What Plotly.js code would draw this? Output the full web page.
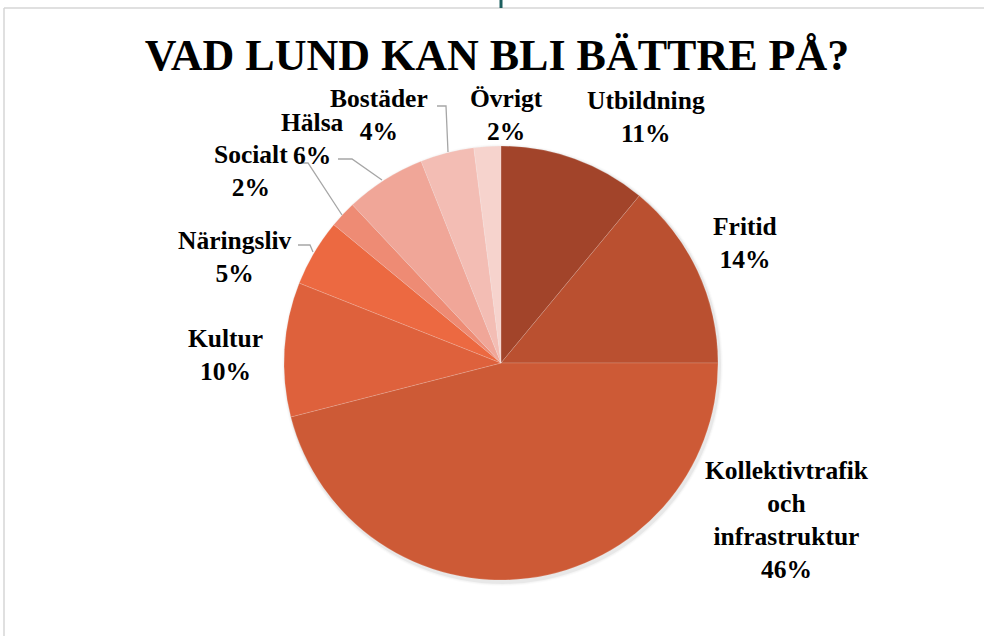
<!DOCTYPE html>
<html>
<head>
<meta charset="utf-8">
<script src="https://cdn.plot.ly/plotly-3.0.1.min.js"></script>
<style>
  html, body { margin: 0; padding: 0; background: #fff; }
  #chart { width: 984px; height: 636px; }
</style>
</head>
<body>
<div id="chart"></div>
<script>
const categories = ["Utbildning", "Fritid", "Kollektivtrafik och infrastruktur", "Kultur", "Näringsliv", "Socialt", "Hälsa", "Bostäder", "Övrigt"]
const shares = [11, 14, 46, 10, 5, 2, 6, 4, 2]
const colors = ["#A2442A", "#BA5030", "#CD5A36", "#DE613C", "#EC6941", "#EE8B74", "#F0A698", "#F3BDB4", "#F6D3CD"]

// label centres in pixels, same order as categories
const labelPos = [[646, 117], [745, 243], [787, 520], [225, 355], [235, 257], [251, 171], [312, 139], [379, 115], [506, 115]]

const W = 984, H = 636
const px = (x) => x / W
const py = (y) => 1 - y / H

const cx = 501, cy = 363, r = 217

const annotations = categories.map((name, i) => ({
    xref: "paper", yref: "paper",
    x: px(labelPos[i][0]), y: py(labelPos[i][1]),
    xanchor: "center", yanchor: "middle",
    text: name.split(" ").join("<br>") + "<br>" + shares[i] + "%",
    showarrow: false,
    font: { family: "Liberation Serif", size: 25.5, color: "#000", weight: "bold" }
}))

// leader lines (pixel paths)
const leaders = [
    [[437, 106], [446, 106], [448, 152]],
    [[338, 159], [352, 159], [382, 180]],
    [[298, 163], [308, 163], [342, 215]],
    [[298, 245], [310, 245], [313, 252]]
]

const shapes = []
// frame
shapes.push({ type: "line", xref: "paper", yref: "paper", x0: px(4), y0: py(8), x1: 1, y1: py(8), line: { color: "#d6d6d6", width: 1.5 } })
shapes.push({ type: "line", xref: "paper", yref: "paper", x0: px(4), y0: py(8), x1: px(4), y1: 0, line: { color: "#d6d6d6", width: 1.5 } })
shapes.push({ type: "line", xref: "paper", yref: "paper", x0: px(501), y0: 1, x1: px(501), y1: py(8), line: { color: "#1d5f5f", width: 3 } })
// soft shadow behind the pie
for (let k = 3; k >= 1; k--) {
    shapes.push({
        type: "circle", xref: "paper", yref: "paper", layer: "below",
        x0: px(cx - r - k + 1), x1: px(cx + r + k + 2),
        y0: py(cy + r + k + 3), y1: py(cy - r - k + 1),
        fillcolor: "rgba(0,0,0," + (0.05 / k).toFixed(3) + ")", line: { width: 0 }
    })
}
for (let l of leaders) {
    shapes.push({
        type: "path", xref: "paper", yref: "paper",
        path: "M" + l.map(p => px(p[0]) + "," + py(p[1])).join(" L"),
        line: { color: "#a6a6a6", width: 1.3 }
    })
}

const trace = {
    type: "pie",
    labels: categories,
    values: shares,
    sort: false,
    direction: "clockwise",
    rotation: 0,
    textinfo: "none",
    hoverinfo: "none",
    marker: { colors, line: { color: "rgba(255,255,255,0.25)", width: 0.6 } },
    domain: { x: [px(cx - r), px(cx + r)], y: [py(cy + r), py(cy - r)] }
}

const layout = {
    width: W, height: H,
    margin: { l: 0, r: 0, t: 0, b: 0 },
    paper_bgcolor: "#fff",
    showlegend: false,
    title: {
        text: "VAD LUND KAN BLI BÄTTRE PÅ?",
        x: 0.505, xanchor: "center",
        y: py(55), yanchor: "middle",
        font: { family: "Liberation Serif", size: 44, color: "#000", weight: "bold" }
    },
    annotations,
    shapes
}

Plotly.newPlot("chart", [trace], layout, { displayModeBar: false, staticPlot: true })
</script>
</body>
</html>
